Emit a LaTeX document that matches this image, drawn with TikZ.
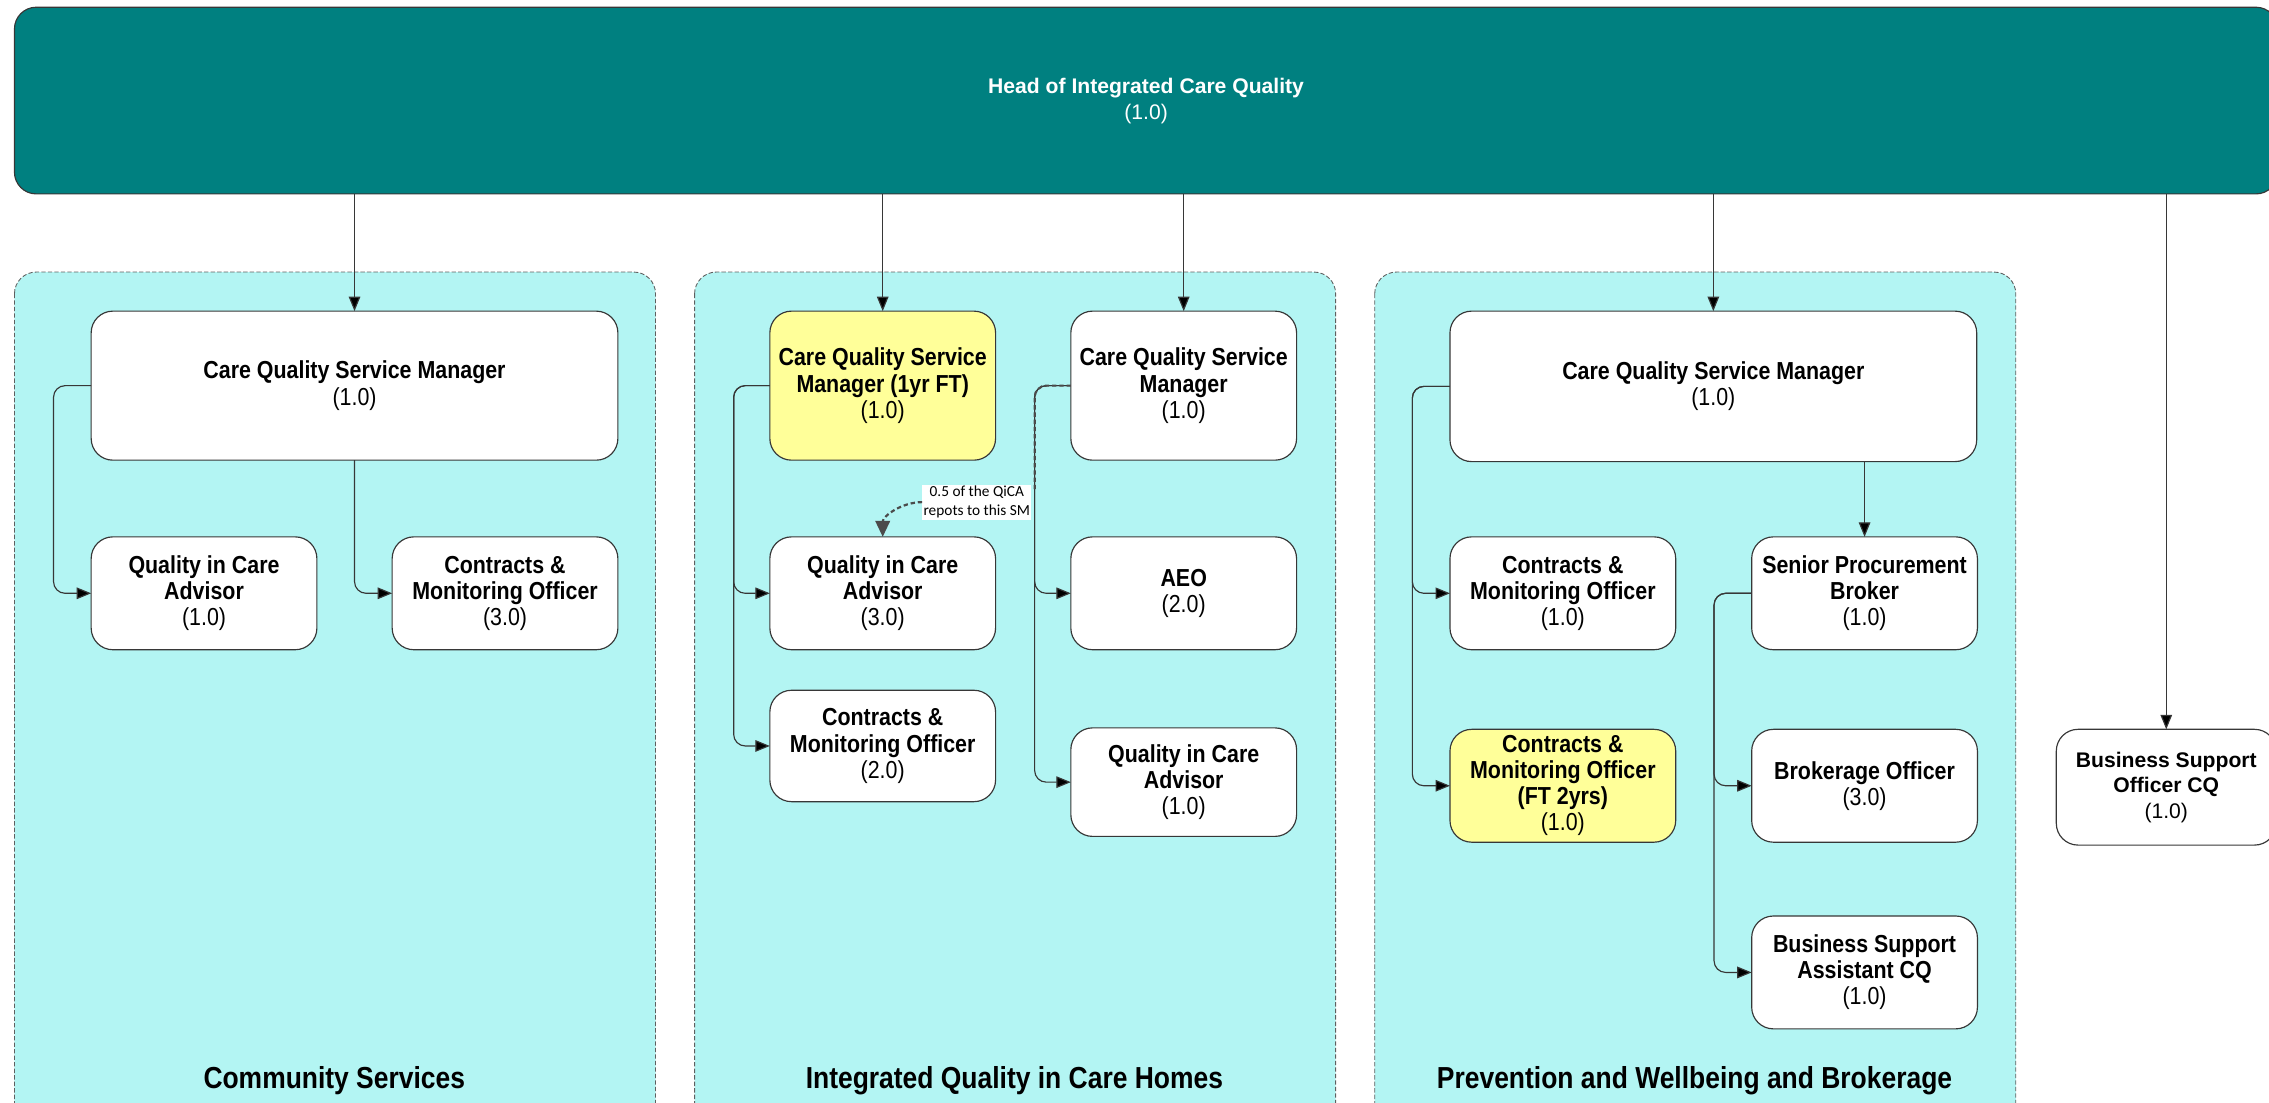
\documentclass[tikz,border=0pt]{standalone}
\usepackage{fontspec}
\setmainfont{Liberation Sans}
\newfontfamily\narrowfont[FakeStretch=0.87]{Liberation Sans}
\newfontfamily\notefont{Carlito}
\usetikzlibrary{arrows.meta}
\definecolor{teal}{RGB}{0,128,128}
\definecolor{secfill}{RGB}{179,245,243}
\definecolor{postyellow}{RGB}{255,255,153}
\definecolor{edge}{RGB}{55,55,55}
\begin{document}
\begin{tikzpicture}[x=1pt,y=-1pt,
  every node/.style={inner sep=0pt,outer sep=0pt},
  post/.style={draw=edge,line width=0.8pt,rounded corners=15pt,fill=white,
    font=\narrowfont\fontsize{17}{18}\selectfont,align=center,
    minimum width=156pt,minimum height=78pt},
  wide/.style={minimum width=364pt,minimum height=103pt},
  tall/.style={minimum height=103pt},
  hl/.style={fill=postyellow},
  section/.style={draw=edge!80,line width=0.6pt,dash pattern=on 3pt off 1.5pt,
    rounded corners=15pt,fill=secfill},
  seclabel/.style={font=\narrowfont\bfseries\fontsize{21}{24}\selectfont},
  conn/.style={draw=edge,line width=0.8pt,rounded corners=8pt,
    -{Triangle[length=10pt,width=8pt,fill=black]}},
  notepath/.style={draw=edge!90,line width=1.5pt,dash pattern=on 3pt off 2pt},
  notebox/.style={fill=white,inner sep=1pt,align=center,font=\notefont\fontsize{10.6}{13}\selectfont}
]
\useasboundingbox (0,0) rectangle (1568,762);
\clip (0,0) rectangle (1568,762);

% sections
\draw[section] (10,188) rectangle (453,790);
\draw[section] (480,188) rectangle (923,790);
\draw[section] (950,188) rectangle (1393,790);
\node[seclabel] (lab1) at (231,747) {Community Services};
\node[seclabel] (lab2) at (701,747) {Integrated Quality in Care Homes};
\node[seclabel] (lab3) at (1171,747) {Prevention and Wellbeing and Brokerage};

% head
\node[draw=edge,line width=0.8pt,rounded corners=15pt,fill=teal,text=white,
  minimum width=1564pt,minimum height=129pt,align=center,
  font=\fontsize{14.6}{18}\selectfont] (head) at (792,69.5)
  {\textbf{Head of Integrated Care Quality}\\(1.0)};

% section 1
\node[post,wide] (cqsm1) at (245,266.5) {\textbf{Care Quality Service Manager}\\(1.0)};
\node[post] (qica1) at (141,410) {\textbf{Quality in Care}\\\textbf{Advisor}\\(1.0)};
\node[post] (cmo1) at (349,410) {\textbf{Contracts \&}\\\textbf{Monitoring Officer}\\(3.0)};

% section 2
\node[post,tall,hl] (cqsm2a) at (610,266.5) {\textbf{Care Quality Service}\\\textbf{Manager (1yr FT)}\\(1.0)};
\node[post,tall] (cqsm2b) at (818,266.5) {\textbf{Care Quality Service}\\\textbf{Manager}\\(1.0)};
\node[post] (qica2) at (610,410) {\textbf{Quality in Care}\\\textbf{Advisor}\\(3.0)};
\node[post,minimum height=77pt] (cmo2) at (610,515.5) {\textbf{Contracts \&}\\\textbf{Monitoring Officer}\\(2.0)};
\node[post] (aeo2) at (818,410) {\textbf{AEO}\\(2.0)};
\node[post,minimum height=75pt] (qica2b) at (818,540.5) {\textbf{Quality in Care}\\\textbf{Advisor}\\(1.0)};

% section 3
\node[post,wide,minimum height=104pt] (cqsm3) at (1184,267) {\textbf{Care Quality Service Manager}\\(1.0)};
\node[post] (cmo3) at (1080,410) {\textbf{Contracts \&}\\\textbf{Monitoring Officer}\\(1.0)};
\node[post,hl] (cmo3y) at (1080,543) {\textbf{Contracts \&}\\\textbf{Monitoring Officer}\\\textbf{(FT 2yrs)}\\(1.0)};
\node[post] (spb) at (1288.5,410) {\textbf{Senior Procurement}\\\textbf{Broker}\\(1.0)};
\node[post] (bo) at (1288.5,543) {\textbf{Brokerage Officer}\\(3.0)};
\node[post] (bsa) at (1288.5,672) {\textbf{Business Support}\\\textbf{Assistant CQ}\\(1.0)};

% standalone
\node[post,minimum width=152pt,minimum height=80pt,font=\fontsize{14.6}{17.5}\selectfont] (bso) at (1497,544)
  {\textbf{Business Support}\\\textbf{Officer CQ}\\(1.0)};

% connectors from head
\foreach \n in {cqsm1,cqsm2a,cqsm2b,cqsm3,bso}
  \draw[conn] (head.south -| \n.north) -- (\n.north);

% section 1 connectors
\draw[conn] (cqsm1.west) -- ++(-26,0) |- (qica1.west);
\draw[conn] (cqsm1.south) |- (cmo1.west);

% section 2 connectors
\draw[conn] (cqsm2a.west) -- ++(-25,0) |- (qica2.west);
\draw[conn] (cqsm2a.west) -- ++(-25,0) |- (cmo2.west);
\draw[conn] (cqsm2b.west) -- ++(-25,0) |- (aeo2.west);
\draw[conn] (cqsm2b.west) -- ++(-25,0) |- (qica2b.west);

% dashed note
\coordinate (notetop) at (715,340);
\draw[notepath,rounded corners=8pt] (cqsm2b.west) -- ++(-25,0) -- (notetop);
\node[notebox] (note) at (675,347) {0.5 of the QiCA\\repots to this SM};
\draw[notepath,-{Triangle[length=11pt,width=10pt]}] (note.west) to[out=180,in=90] (qica2.north);

% section 3 connectors
\draw[conn] (cqsm3.west) -- ++(-26,0) |- (cmo3.west);
\draw[conn] (cqsm3.west) -- ++(-26,0) |- (cmo3y.west);
\draw[conn] (cqsm3.south -| spb.north) -- (spb.north);
\draw[conn] (spb.west) -- ++(-26,0) |- (bo.west);
\draw[conn] (spb.west) -- ++(-26,0) |- (bsa.west);
\end{tikzpicture}
\end{document}
